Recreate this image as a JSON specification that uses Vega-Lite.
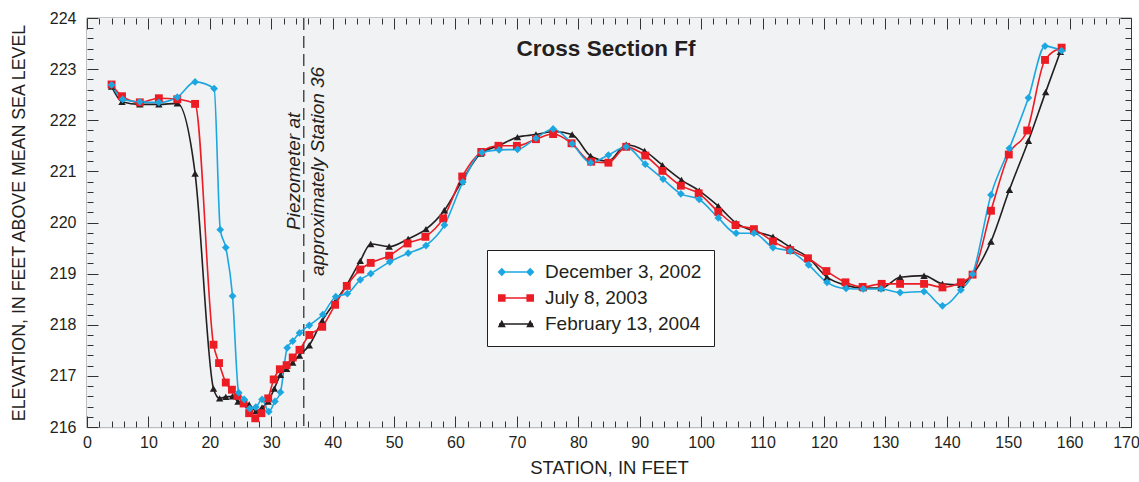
{
  "$schema": "https://vega.github.io/schema/vega-lite/v6.json",
  "width": 1044,
  "height": 409,
  "autosize": "none",
  "padding": {"left": 87, "top": 18, "right": 8, "bottom": 55},
  "background": "white",
  "config": {
    "view": {"fill": null, "stroke": "#2b2b2b", "strokeWidth": 1.2},
    "axis": {
      "labelFont": "Liberation Sans",
      "labelFontSize": 16,
      "labelColor": "#231f20",
      "titleFont": "Liberation Sans",
      "titleFontWeight": "normal",
      "titleColor": "#231f20",
      "domain": false,
      "grid": false,
      "format": "d"
    }
  },
  "title": {
    "text": "Cross Section Ff",
    "font": "Liberation Sans",
    "fontSize": 22.5,
    "fontWeight": "bold",
    "color": "#231f20",
    "anchor": "middle",
    "frame": "group",
    "baseline": "alphabetic",
    "offset": -68,
    "dx": -3
  },
  "datasets": {
    "profiles": [
      {"date": "February 13, 2004", "station": 4.0, "elevation": 222.66},
      {"date": "February 13, 2004", "station": 5.7, "elevation": 222.36},
      {"date": "February 13, 2004", "station": 8.6, "elevation": 222.31},
      {"date": "February 13, 2004", "station": 11.7, "elevation": 222.31},
      {"date": "February 13, 2004", "station": 14.7, "elevation": 222.33},
      {"date": "February 13, 2004", "station": 17.6, "elevation": 220.96},
      {"date": "February 13, 2004", "station": 20.6, "elevation": 216.75},
      {"date": "February 13, 2004", "station": 21.6, "elevation": 216.56},
      {"date": "February 13, 2004", "station": 22.6, "elevation": 216.59},
      {"date": "February 13, 2004", "station": 23.7, "elevation": 216.6},
      {"date": "February 13, 2004", "station": 24.6, "elevation": 216.5},
      {"date": "February 13, 2004", "station": 25.5, "elevation": 216.48},
      {"date": "February 13, 2004", "station": 26.4, "elevation": 216.44},
      {"date": "February 13, 2004", "station": 27.5, "elevation": 216.31},
      {"date": "February 13, 2004", "station": 28.5, "elevation": 216.38},
      {"date": "February 13, 2004", "station": 29.5, "elevation": 216.5},
      {"date": "February 13, 2004", "station": 30.5, "elevation": 216.75},
      {"date": "February 13, 2004", "station": 31.5, "elevation": 217.02},
      {"date": "February 13, 2004", "station": 32.5, "elevation": 217.14},
      {"date": "February 13, 2004", "station": 33.5, "elevation": 217.26},
      {"date": "February 13, 2004", "station": 34.6, "elevation": 217.4},
      {"date": "February 13, 2004", "station": 36.2, "elevation": 217.6},
      {"date": "February 13, 2004", "station": 38.3, "elevation": 218.08},
      {"date": "February 13, 2004", "station": 40.4, "elevation": 218.45},
      {"date": "February 13, 2004", "station": 42.3, "elevation": 218.78},
      {"date": "February 13, 2004", "station": 44.5, "elevation": 219.25},
      {"date": "February 13, 2004", "station": 46.2, "elevation": 219.58},
      {"date": "February 13, 2004", "station": 49.2, "elevation": 219.53},
      {"date": "February 13, 2004", "station": 52.3, "elevation": 219.68},
      {"date": "February 13, 2004", "station": 55.2, "elevation": 219.87},
      {"date": "February 13, 2004", "station": 58.2, "elevation": 220.24},
      {"date": "February 13, 2004", "station": 61.0, "elevation": 220.8},
      {"date": "February 13, 2004", "station": 64.1, "elevation": 221.35},
      {"date": "February 13, 2004", "station": 67.0, "elevation": 221.5},
      {"date": "February 13, 2004", "station": 70.1, "elevation": 221.67},
      {"date": "February 13, 2004", "station": 73.1, "elevation": 221.72},
      {"date": "February 13, 2004", "station": 76.0, "elevation": 221.78},
      {"date": "February 13, 2004", "station": 79.0, "elevation": 221.72},
      {"date": "February 13, 2004", "station": 82.0, "elevation": 221.3},
      {"date": "February 13, 2004", "station": 84.9, "elevation": 221.2},
      {"date": "February 13, 2004", "station": 87.8, "elevation": 221.52},
      {"date": "February 13, 2004", "station": 90.8, "elevation": 221.4},
      {"date": "February 13, 2004", "station": 93.7, "elevation": 221.12},
      {"date": "February 13, 2004", "station": 96.8, "elevation": 220.83},
      {"date": "February 13, 2004", "station": 99.7, "elevation": 220.62},
      {"date": "February 13, 2004", "station": 102.8, "elevation": 220.32},
      {"date": "February 13, 2004", "station": 105.7, "elevation": 219.99},
      {"date": "February 13, 2004", "station": 108.6, "elevation": 219.83},
      {"date": "February 13, 2004", "station": 111.7, "elevation": 219.72},
      {"date": "February 13, 2004", "station": 114.5, "elevation": 219.52},
      {"date": "February 13, 2004", "station": 117.5, "elevation": 219.31},
      {"date": "February 13, 2004", "station": 120.5, "elevation": 218.93},
      {"date": "February 13, 2004", "station": 123.6, "elevation": 218.77},
      {"date": "February 13, 2004", "station": 126.4, "elevation": 218.72},
      {"date": "February 13, 2004", "station": 129.3, "elevation": 218.72},
      {"date": "February 13, 2004", "station": 132.4, "elevation": 218.93},
      {"date": "February 13, 2004", "station": 136.3, "elevation": 218.96},
      {"date": "February 13, 2004", "station": 139.3, "elevation": 218.8},
      {"date": "February 13, 2004", "station": 142.3, "elevation": 218.78},
      {"date": "February 13, 2004", "station": 144.2, "elevation": 218.98},
      {"date": "February 13, 2004", "station": 147.2, "elevation": 219.63},
      {"date": "February 13, 2004", "station": 150.2, "elevation": 220.64},
      {"date": "February 13, 2004", "station": 153.3, "elevation": 221.6},
      {"date": "February 13, 2004", "station": 156.1, "elevation": 222.55},
      {"date": "February 13, 2004", "station": 158.5, "elevation": 223.34},

      {"date": "July 8, 2003", "station": 4.0, "elevation": 222.7},
      {"date": "July 8, 2003", "station": 5.7, "elevation": 222.47},
      {"date": "July 8, 2003", "station": 8.6, "elevation": 222.35},
      {"date": "July 8, 2003", "station": 11.7, "elevation": 222.43},
      {"date": "July 8, 2003", "station": 14.7, "elevation": 222.41},
      {"date": "July 8, 2003", "station": 17.6, "elevation": 222.32},
      {"date": "July 8, 2003", "station": 20.6, "elevation": 217.61},
      {"date": "July 8, 2003", "station": 21.5, "elevation": 217.25},
      {"date": "July 8, 2003", "station": 22.6, "elevation": 216.87},
      {"date": "July 8, 2003", "station": 23.6, "elevation": 216.73},
      {"date": "July 8, 2003", "station": 24.5, "elevation": 216.61},
      {"date": "July 8, 2003", "station": 25.5, "elevation": 216.46},
      {"date": "July 8, 2003", "station": 26.4, "elevation": 216.27},
      {"date": "July 8, 2003", "station": 27.4, "elevation": 216.17},
      {"date": "July 8, 2003", "station": 28.4, "elevation": 216.27},
      {"date": "July 8, 2003", "station": 29.5, "elevation": 216.56},
      {"date": "July 8, 2003", "station": 30.4, "elevation": 216.93},
      {"date": "July 8, 2003", "station": 31.4, "elevation": 217.13},
      {"date": "July 8, 2003", "station": 32.5, "elevation": 217.21},
      {"date": "July 8, 2003", "station": 33.5, "elevation": 217.36},
      {"date": "July 8, 2003", "station": 34.6, "elevation": 217.51},
      {"date": "July 8, 2003", "station": 36.2, "elevation": 217.8},
      {"date": "July 8, 2003", "station": 38.3, "elevation": 217.96},
      {"date": "July 8, 2003", "station": 40.4, "elevation": 218.39},
      {"date": "July 8, 2003", "station": 42.3, "elevation": 218.76},
      {"date": "July 8, 2003", "station": 44.5, "elevation": 219.08},
      {"date": "July 8, 2003", "station": 46.2, "elevation": 219.21},
      {"date": "July 8, 2003", "station": 49.2, "elevation": 219.35},
      {"date": "July 8, 2003", "station": 52.2, "elevation": 219.59},
      {"date": "July 8, 2003", "station": 55.1, "elevation": 219.72},
      {"date": "July 8, 2003", "station": 58.0, "elevation": 220.08},
      {"date": "July 8, 2003", "station": 61.1, "elevation": 220.9},
      {"date": "July 8, 2003", "station": 64.2, "elevation": 221.38},
      {"date": "July 8, 2003", "station": 67.0, "elevation": 221.5},
      {"date": "July 8, 2003", "station": 70.0, "elevation": 221.5},
      {"date": "July 8, 2003", "station": 73.1, "elevation": 221.63},
      {"date": "July 8, 2003", "station": 75.9, "elevation": 221.73},
      {"date": "July 8, 2003", "station": 78.9, "elevation": 221.55},
      {"date": "July 8, 2003", "station": 82.1, "elevation": 221.19},
      {"date": "July 8, 2003", "station": 84.9, "elevation": 221.17},
      {"date": "July 8, 2003", "station": 87.8, "elevation": 221.48},
      {"date": "July 8, 2003", "station": 90.9, "elevation": 221.31},
      {"date": "July 8, 2003", "station": 93.7, "elevation": 221.01},
      {"date": "July 8, 2003", "station": 96.7, "elevation": 220.72},
      {"date": "July 8, 2003", "station": 99.6, "elevation": 220.57},
      {"date": "July 8, 2003", "station": 102.8, "elevation": 220.21},
      {"date": "July 8, 2003", "station": 105.6, "elevation": 219.95},
      {"date": "July 8, 2003", "station": 108.6, "elevation": 219.87},
      {"date": "July 8, 2003", "station": 111.7, "elevation": 219.63},
      {"date": "July 8, 2003", "station": 114.5, "elevation": 219.46},
      {"date": "July 8, 2003", "station": 117.4, "elevation": 219.3},
      {"date": "July 8, 2003", "station": 120.4, "elevation": 219.05},
      {"date": "July 8, 2003", "station": 123.5, "elevation": 218.83},
      {"date": "July 8, 2003", "station": 126.3, "elevation": 218.74},
      {"date": "July 8, 2003", "station": 129.4, "elevation": 218.8},
      {"date": "July 8, 2003", "station": 132.4, "elevation": 218.8},
      {"date": "July 8, 2003", "station": 136.3, "elevation": 218.8},
      {"date": "July 8, 2003", "station": 139.3, "elevation": 218.73},
      {"date": "July 8, 2003", "station": 142.3, "elevation": 218.83},
      {"date": "July 8, 2003", "station": 144.2, "elevation": 218.98},
      {"date": "July 8, 2003", "station": 147.2, "elevation": 220.23},
      {"date": "July 8, 2003", "station": 150.1, "elevation": 221.33},
      {"date": "July 8, 2003", "station": 153.1, "elevation": 221.8},
      {"date": "July 8, 2003", "station": 156.0, "elevation": 223.18},
      {"date": "July 8, 2003", "station": 158.7, "elevation": 223.42},

      {"date": "December 3, 2002", "station": 4.0, "elevation": 222.69},
      {"date": "December 3, 2002", "station": 5.8, "elevation": 222.41},
      {"date": "December 3, 2002", "station": 8.6, "elevation": 222.36},
      {"date": "December 3, 2002", "station": 11.7, "elevation": 222.35},
      {"date": "December 3, 2002", "station": 14.7, "elevation": 222.45},
      {"date": "December 3, 2002", "station": 17.6, "elevation": 222.75},
      {"date": "December 3, 2002", "station": 20.7, "elevation": 222.62},
      {"date": "December 3, 2002", "station": 21.7, "elevation": 219.86},
      {"date": "December 3, 2002", "station": 22.6, "elevation": 219.51},
      {"date": "December 3, 2002", "station": 23.7, "elevation": 218.56},
      {"date": "December 3, 2002", "station": 24.7, "elevation": 216.67},
      {"date": "December 3, 2002", "station": 25.6, "elevation": 216.54},
      {"date": "December 3, 2002", "station": 26.5, "elevation": 216.36},
      {"date": "December 3, 2002", "station": 27.5, "elevation": 216.39},
      {"date": "December 3, 2002", "station": 28.5, "elevation": 216.54},
      {"date": "December 3, 2002", "station": 29.6, "elevation": 216.3},
      {"date": "December 3, 2002", "station": 30.6, "elevation": 216.5},
      {"date": "December 3, 2002", "station": 31.5, "elevation": 216.68},
      {"date": "December 3, 2002", "station": 32.6, "elevation": 217.55},
      {"date": "December 3, 2002", "station": 33.5, "elevation": 217.68},
      {"date": "December 3, 2002", "station": 34.6, "elevation": 217.84},
      {"date": "December 3, 2002", "station": 36.2, "elevation": 217.99},
      {"date": "December 3, 2002", "station": 38.4, "elevation": 218.2},
      {"date": "December 3, 2002", "station": 40.5, "elevation": 218.55},
      {"date": "December 3, 2002", "station": 42.4, "elevation": 218.61},
      {"date": "December 3, 2002", "station": 44.5, "elevation": 218.88},
      {"date": "December 3, 2002", "station": 46.2, "elevation": 219.0},
      {"date": "December 3, 2002", "station": 49.3, "elevation": 219.23},
      {"date": "December 3, 2002", "station": 52.3, "elevation": 219.4},
      {"date": "December 3, 2002", "station": 55.2, "elevation": 219.55},
      {"date": "December 3, 2002", "station": 58.2, "elevation": 219.95},
      {"date": "December 3, 2002", "station": 61.2, "elevation": 220.79},
      {"date": "December 3, 2002", "station": 64.3, "elevation": 221.37},
      {"date": "December 3, 2002", "station": 67.1, "elevation": 221.42},
      {"date": "December 3, 2002", "station": 70.1, "elevation": 221.43},
      {"date": "December 3, 2002", "station": 73.1, "elevation": 221.65},
      {"date": "December 3, 2002", "station": 75.9, "elevation": 221.83},
      {"date": "December 3, 2002", "station": 79.0, "elevation": 221.54},
      {"date": "December 3, 2002", "station": 82.0, "elevation": 221.17},
      {"date": "December 3, 2002", "station": 84.9, "elevation": 221.32},
      {"date": "December 3, 2002", "station": 87.8, "elevation": 221.48},
      {"date": "December 3, 2002", "station": 90.9, "elevation": 221.14},
      {"date": "December 3, 2002", "station": 93.8, "elevation": 220.85},
      {"date": "December 3, 2002", "station": 96.7, "elevation": 220.56},
      {"date": "December 3, 2002", "station": 99.7, "elevation": 220.45},
      {"date": "December 3, 2002", "station": 102.8, "elevation": 220.09},
      {"date": "December 3, 2002", "station": 105.7, "elevation": 219.79},
      {"date": "December 3, 2002", "station": 108.6, "elevation": 219.79},
      {"date": "December 3, 2002", "station": 111.7, "elevation": 219.51},
      {"date": "December 3, 2002", "station": 114.5, "elevation": 219.44},
      {"date": "December 3, 2002", "station": 117.5, "elevation": 219.17},
      {"date": "December 3, 2002", "station": 120.5, "elevation": 218.83},
      {"date": "December 3, 2002", "station": 123.6, "elevation": 218.71},
      {"date": "December 3, 2002", "station": 126.4, "elevation": 218.7},
      {"date": "December 3, 2002", "station": 129.3, "elevation": 218.7},
      {"date": "December 3, 2002", "station": 132.4, "elevation": 218.63},
      {"date": "December 3, 2002", "station": 136.3, "elevation": 218.65},
      {"date": "December 3, 2002", "station": 139.3, "elevation": 218.37},
      {"date": "December 3, 2002", "station": 142.3, "elevation": 218.68},
      {"date": "December 3, 2002", "station": 144.2, "elevation": 218.99},
      {"date": "December 3, 2002", "station": 147.2, "elevation": 220.54},
      {"date": "December 3, 2002", "station": 150.2, "elevation": 221.45},
      {"date": "December 3, 2002", "station": 153.3, "elevation": 222.44},
      {"date": "December 3, 2002", "station": 156.0, "elevation": 223.45},
      {"date": "December 3, 2002", "station": 158.7, "elevation": 223.36}
    ],
    "piezometer": [{"station": 35.3}],
    "notes": [{"station": 33.7, "elevation": 221.0, "note": "Piezometer at\napproximately Station 36"}]
  },
  "layer": [
    {
      "data": {"name": "piezometer"},
      "mark": {"type": "rect", "fill": "#f1f2f4", "stroke": null},
      "encoding": {
        "x": {"datum": 0, "type": "quantitative", "scale": {"domain": [0, 170], "nice": false, "zero": false}, "axis": null},
        "x2": {"datum": 170},
        "y": {"datum": 216, "type": "quantitative", "scale": {"domain": [216, 224], "nice": false, "zero": false}, "axis": null},
        "y2": {"datum": 224}
      }
    },
    {
      "data": {"name": "piezometer"},
      "mark": {"type": "rule", "color": "#333333", "strokeWidth": 1.3, "strokeDash": [12, 6]},
      "encoding": {
        "x": {
          "field": "station", "type": "quantitative",
          "scale": {"domain": [0, 170], "nice": false, "zero": false},
          "axis": {
            "orient": "top", "zindex": 2,
            "values": [0,10,20,30,40,50,60,70,80,90,100,110,120,130,140,150,160,170],
            "ticks": true, "tickColor": "#333333", "tickWidth": 1,
            "labels": false, "title": null, "tickSize": -11
          }
        }
      }
    },
    {
      "data": {"name": "profiles"},
      "mark": {"type": "line", "interpolate": "monotone", "strokeWidth": 1.6},
      "encoding": {
        "x": {
          "field": "station", "type": "quantitative",
          "scale": {"domain": [0, 170], "nice": false, "zero": false},
          "axis": {
            "orient": "bottom", "zindex": 2,
            "values": [0,10,20,30,40,50,60,70,80,90,100,110,120,130,140,150,160,170],
            "labelExpr": "datum.value === 170 ? '' : datum.label",
            "labelFlush": false, "labelOverlap": false, "labelBound": false,
            "ticks": true, "tickColor": "#333333", "tickWidth": 1,
            "tickSize": -11, "labelPadding": 18,
            "title": "STATION, IN FEET", "titleFontSize": 18.5, "titlePadding": 8
          }
        },
        "y": {
          "field": "elevation", "type": "quantitative",
          "scale": {"domain": [216, 224], "nice": false, "zero": false},
          "axis": {
            "orient": "left", "zindex": 2,
            "values": [216,217,218,219,220,221,222,223,224],
            "labelFlush": false, "labelOverlap": false, "labelBound": false,
            "ticks": true, "tickColor": "#333333", "tickWidth": 1,
            "tickSize": -11, "labelPadding": 22,
            "title": "ELEVATION, IN FEET ABOVE MEAN SEA LEVEL", "titleFontSize": 17.8, "titlePadding": 21
          }
        },
        "color": {
          "field": "date", "type": "nominal",
          "scale": {"domain": ["February 13, 2004", "July 8, 2003", "December 3, 2002"], "range": ["#231f20", "#ec1c24", "#1ca7e1"]},
          "legend": null
        }
      }
    },
    {
      "data": {"name": "profiles"},
      "transform": [{"filter": "datum.date === 'February 13, 2004'"}],
      "mark": {"type": "point", "shape": "triangle-up", "filled": true, "opacity": 1, "size": 55},
      "encoding": {
        "x": {
          "field": "station", "type": "quantitative",
          "scale": {"domain": [0, 170], "nice": false, "zero": false},
          "axis": {
            "orient": "bottom", "zindex": 2,
            "values": [2,4,6,8,12,14,16,18,22,24,26,28,32,34,36,38,42,44,46,48,52,54,56,58,62,64,66,68,72,74,76,78,82,84,86,88,92,94,96,98,102,104,106,108,112,114,116,118,122,124,126,128,132,134,136,138,142,144,146,148,152,154,156,158,162,164,166,168],
            "ticks": true, "tickColor": "#333333", "tickWidth": 1,
            "labels": false, "title": null, "tickSize": -6
          }
        },
        "y": {
          "field": "elevation", "type": "quantitative",
          "scale": {"domain": [216, 224], "nice": false, "zero": false},
          "axis": {
            "orient": "left", "zindex": 0,
            "values": [216,217,218,219,220,221,222,223,224],
            "ticks": false, "labels": false, "title": null,
            "grid": true, "gridColor": "#bcbec0", "gridWidth": 1.5
          }
        },
        "color": {
          "field": "date", "type": "nominal",
          "scale": {"domain": ["February 13, 2004", "July 8, 2003", "December 3, 2002"], "range": ["#231f20", "#ec1c24", "#1ca7e1"]},
          "legend": null
        }
      }
    },
    {
      "data": {"name": "profiles"},
      "transform": [{"filter": "datum.date === 'July 8, 2003'"}],
      "mark": {"type": "point", "shape": "square", "filled": true, "opacity": 1, "size": 62},
      "encoding": {
        "x": {"field": "station", "type": "quantitative", "scale": {"domain": [0, 170], "nice": false, "zero": false}, "axis": null},
        "y": {
          "field": "elevation", "type": "quantitative",
          "scale": {"domain": [216, 224], "nice": false, "zero": false},
          "axis": {
            "orient": "left", "zindex": 2,
            "values": [216.2,216.4,216.6,216.8,217.2,217.4,217.6,217.8,218.2,218.4,218.6,218.8,219.2,219.4,219.6,219.8,220.2,220.4,220.6,220.8,221.2,221.4,221.6,221.8,222.2,222.4,222.6,222.8,223.2,223.4,223.6,223.8],
            "ticks": true, "tickColor": "#333333", "tickWidth": 1,
            "labels": false, "title": null, "tickSize": -6
          }
        },
        "color": {
          "field": "date", "type": "nominal",
          "scale": {"domain": ["February 13, 2004", "July 8, 2003", "December 3, 2002"], "range": ["#231f20", "#ec1c24", "#1ca7e1"]},
          "legend": null
        }
      }
    },
    {
      "data": {"name": "profiles"},
      "transform": [{"filter": "datum.date === 'December 3, 2002'"}],
      "mark": {"type": "point", "shape": "diamond", "filled": true, "opacity": 1, "size": 60},
      "encoding": {
        "x": {"field": "station", "type": "quantitative", "scale": {"domain": [0, 170], "nice": false, "zero": false}, "axis": null},
        "y": {"field": "elevation", "type": "quantitative", "scale": {"domain": [216, 224], "nice": false, "zero": false}, "axis": null},
        "color": {
          "field": "date", "type": "nominal",
          "scale": {"domain": ["February 13, 2004", "July 8, 2003", "December 3, 2002"], "range": ["#231f20", "#ec1c24", "#1ca7e1"]},
          "legend": null
        }
      }
    },
    {
      "data": {"name": "notes"},
      "mark": {"type": "text", "angle": 270, "align": "center", "baseline": "middle", "lineBreak": "\n", "lineHeight": 24, "font": "Liberation Sans", "fontStyle": "italic", "fontSize": 19, "color": "#231f20"},
      "encoding": {
        "x": {
          "field": "station", "type": "quantitative",
          "scale": {"domain": [0, 170], "nice": false, "zero": false},
          "axis": {
            "orient": "top", "zindex": 2,
            "values": [2,4,6,8,12,14,16,18,22,24,26,28,32,34,36,38,42,44,46,48,52,54,56,58,62,64,66,68,72,74,76,78,82,84,86,88,92,94,96,98,102,104,106,108,112,114,116,118,122,124,126,128,132,134,136,138,142,144,146,148,152,154,156,158,162,164,166,168],
            "ticks": true, "tickColor": "#333333", "tickWidth": 1,
            "labels": false, "title": null, "tickSize": -6
          }
        },
        "y": {
          "field": "elevation", "type": "quantitative",
          "scale": {"domain": [216, 224], "nice": false, "zero": false},
          "axis": {
            "orient": "right", "zindex": 2,
            "values": [216,217,218,219,220,221,222,223,224],
            "ticks": true, "tickColor": "#333333", "tickWidth": 1,
            "labels": false, "title": null, "tickSize": -11
          }
        },
        "text": {"field": "note", "type": "nominal"}
      }
    },
    {
      "data": {"name": "profiles"},
      "transform": [{"filter": "false"}],
      "mark": {"type": "point", "filled": true, "opacity": 1},
      "encoding": {
        "x": {
          "field": "station", "type": "quantitative",
          "scale": {"domain": [0, 170], "nice": false, "zero": false},
          "axis": {
            "orient": "bottom",
            "values": [170],
            "ticks": false, "labelOffset": -5, "labelPadding": 7,
            "labelFlush": false, "labelOverlap": false, "labelBound": false,
            "title": null
          }
        },
        "y": {
          "field": "elevation", "type": "quantitative",
          "scale": {"domain": [216, 224], "nice": false, "zero": false},
          "axis": {
            "orient": "right", "zindex": 2,
            "values": [216.2,216.4,216.6,216.8,217.2,217.4,217.6,217.8,218.2,218.4,218.6,218.8,219.2,219.4,219.6,219.8,220.2,220.4,220.6,220.8,221.2,221.4,221.6,221.8,222.2,222.4,222.6,222.8,223.2,223.4,223.6,223.8],
            "ticks": true, "tickColor": "#333333", "tickWidth": 1,
            "labels": false, "title": null, "tickSize": -6
          }
        },
        "fill": {
          "field": "date", "type": "nominal",
          "scale": {"domain": ["December 3, 2002", "July 8, 2003", "February 13, 2004"], "range": ["#1ca7e1", "#ec1c24", "#231f20"]},
          "legend": {"orient": "none", "legendX": 400, "legendY": 232, "title": null, "labelFont": "Liberation Sans", "labelFontSize": 19, "labelColor": "#231f20", "symbolSize": 400, "symbolOffset": 7, "labelOffset": 19, "padding": 12, "rowPadding": 6, "fillColor": "white", "strokeColor": "#231f20", "symbolStrokeWidth": 0}
        },
        "shape": {
          "field": "date", "type": "nominal",
          "scale": {
            "domain": ["December 3, 2002", "July 8, 2003", "February 13, 2004"],
            "range": [
              "M-1.7,-0.07H1.7V0.07H-1.7ZM-1.42,-0.42L-1,0L-1.42,0.42L-1.84,0ZM1.42,-0.42L1.84,0L1.42,0.42L1,0Z",
              "M-1.7,-0.07H1.7V0.07H-1.7ZM-1.8,-0.38H-1.04V0.38H-1.8ZM1.04,-0.38H1.8V0.38H1.04Z",
              "M-1.7,-0.07H1.7V0.07H-1.7ZM-1.42,-0.42L-1.02,0.32L-1.82,0.32ZM1.42,-0.42L1.82,0.32L1.02,0.32Z"
            ]
          },
          "legend": {"orient": "none", "legendX": 400, "legendY": 232, "title": null, "labelFont": "Liberation Sans", "labelFontSize": 19, "labelColor": "#231f20", "symbolSize": 400, "symbolOffset": 7, "labelOffset": 19, "padding": 12, "rowPadding": 6, "fillColor": "white", "strokeColor": "#231f20", "symbolStrokeWidth": 0}
        }
      }
    }
  ],
  "resolve": {
    "axis": {"x": "independent", "y": "independent"}
  }
}
